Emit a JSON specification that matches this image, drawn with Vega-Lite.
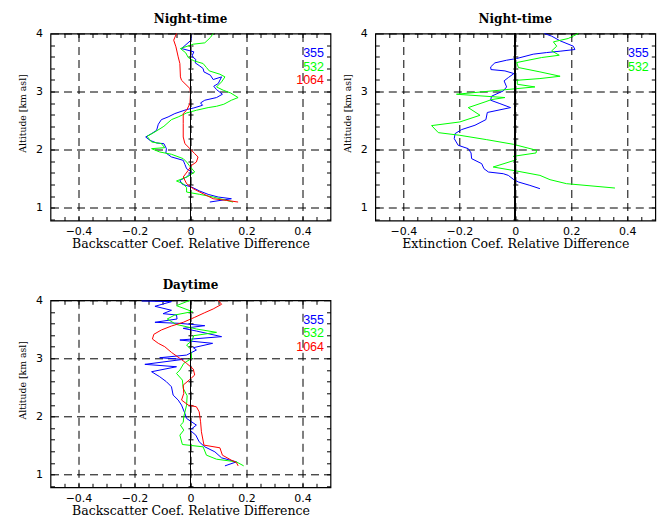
{
 "$schema": "https://vega.github.io/schema/vega-lite/v6.json",
 "background": "white",
 "padding": {"left": 17.5, "top": 11.5, "right": 3, "bottom": 2},
 "data": {"values": [
  {"p":"a","s":"355","x":0,"y":4},{"p":"a","s":"355","x":0.002,"y":3.885},{"p":"a","s":"355","x":-0.032,"y":3.741},{"p":"a","s":"355","x":0.012,"y":3.684},{"p":"a","s":"355","x":0.005,"y":3.609},{"p":"a","s":"355","x":0.019,"y":3.552},{"p":"a","s":"355","x":0.017,"y":3.494},{"p":"a","s":"355","x":0.031,"y":3.448},{"p":"a","s":"355","x":0.045,"y":3.397},{"p":"a","s":"355","x":0.048,"y":3.339},{"p":"a","s":"355","x":0.071,"y":3.282},{"p":"a","s":"355","x":0.081,"y":3.207},{"p":"a","s":"355","x":0.111,"y":3.253},{"p":"a","s":"355","x":0.099,"y":3.138},{"p":"a","s":"355","x":0.083,"y":3.092},{"p":"a","s":"355","x":0.093,"y":3.034},{"p":"a","s":"355","x":0.114,"y":2.954},{"p":"a","s":"355","x":0.093,"y":2.897},{"p":"a","s":"355","x":0.051,"y":2.851},{"p":"a","s":"355","x":0.036,"y":2.805},{"p":"a","s":"355","x":0.043,"y":2.764},{"p":"a","s":"355","x":0.012,"y":2.718},{"p":"a","s":"355","x":-0.014,"y":2.69},{"p":"a","s":"355","x":-0.056,"y":2.621},{"p":"a","s":"355","x":-0.08,"y":2.563},{"p":"a","s":"355","x":-0.104,"y":2.517},{"p":"a","s":"355","x":-0.115,"y":2.437},{"p":"a","s":"355","x":-0.121,"y":2.333},{"p":"a","s":"355","x":-0.139,"y":2.276},{"p":"a","s":"355","x":-0.16,"y":2.218},{"p":"a","s":"355","x":-0.145,"y":2.161},{"p":"a","s":"355","x":-0.121,"y":2.115},{"p":"a","s":"355","x":-0.095,"y":2.103},{"p":"a","s":"355","x":-0.086,"y":2.017},{"p":"a","s":"355","x":-0.088,"y":1.943},{"p":"a","s":"355","x":-0.068,"y":1.874},{"p":"a","s":"355","x":-0.026,"y":1.816},{"p":"a","s":"355","x":-0.02,"y":1.747},{"p":"a","s":"355","x":-0.014,"y":1.672},{"p":"a","s":"355","x":0.004,"y":1.615},{"p":"a","s":"355","x":-0.014,"y":1.529},{"p":"a","s":"355","x":-0.038,"y":1.471},{"p":"a","s":"355","x":-0.029,"y":1.402},{"p":"a","s":"355","x":0.004,"y":1.356},{"p":"a","s":"355","x":0.033,"y":1.287},{"p":"a","s":"355","x":0.063,"y":1.23},{"p":"a","s":"355","x":0.099,"y":1.184},{"p":"a","s":"355","x":0.146,"y":1.155},{"p":"a","s":"355","x":0.069,"y":1.098},
  {"p":"a","s":"532","x":0.081,"y":4},{"p":"a","s":"532","x":0.071,"y":3.931},{"p":"a","s":"532","x":0.051,"y":3.839},{"p":"a","s":"532","x":0.01,"y":3.816},{"p":"a","s":"532","x":-0.036,"y":3.741},{"p":"a","s":"532","x":-0.017,"y":3.667},{"p":"a","s":"532","x":-0.008,"y":3.586},{"p":"a","s":"532","x":0.012,"y":3.529},{"p":"a","s":"532","x":0.045,"y":3.483},{"p":"a","s":"532","x":0.057,"y":3.414},{"p":"a","s":"532","x":0.067,"y":3.356},{"p":"a","s":"532","x":0.105,"y":3.299},{"p":"a","s":"532","x":0.123,"y":3.253},{"p":"a","s":"532","x":0.111,"y":3.167},{"p":"a","s":"532","x":0.093,"y":3.08},{"p":"a","s":"532","x":0.117,"y":3.023},{"p":"a","s":"532","x":0.143,"y":2.977},{"p":"a","s":"532","x":0.17,"y":2.897},{"p":"a","s":"532","x":0.146,"y":2.851},{"p":"a","s":"532","x":0.119,"y":2.782},{"p":"a","s":"532","x":0.093,"y":2.747},{"p":"a","s":"532","x":0.063,"y":2.724},{"p":"a","s":"532","x":0.021,"y":2.678},{"p":"a","s":"532","x":-0.014,"y":2.632},{"p":"a","s":"532","x":-0.044,"y":2.563},{"p":"a","s":"532","x":-0.068,"y":2.517},{"p":"a","s":"532","x":-0.095,"y":2.402},{"p":"a","s":"532","x":-0.127,"y":2.305},{"p":"a","s":"532","x":-0.155,"y":2.23},{"p":"a","s":"532","x":-0.139,"y":2.132},{"p":"a","s":"532","x":-0.104,"y":2.103},{"p":"a","s":"532","x":-0.092,"y":2.034},{"p":"a","s":"532","x":-0.139,"y":2.017},{"p":"a","s":"532","x":-0.11,"y":1.96},{"p":"a","s":"532","x":-0.068,"y":1.92},{"p":"a","s":"532","x":-0.026,"y":1.845},{"p":"a","s":"532","x":-0.014,"y":1.787},{"p":"a","s":"532","x":-0.005,"y":1.73},{"p":"a","s":"532","x":0.015,"y":1.615},{"p":"a","s":"532","x":-0.008,"y":1.54},{"p":"a","s":"532","x":-0.05,"y":1.46},{"p":"a","s":"532","x":-0.026,"y":1.414},{"p":"a","s":"532","x":-0.014,"y":1.345},{"p":"a","s":"532","x":-0.014,"y":1.27},{"p":"a","s":"532","x":0.033,"y":1.23},{"p":"a","s":"532","x":0.081,"y":1.184},{"p":"a","s":"532","x":0.129,"y":1.126},{"p":"a","s":"532","x":0.152,"y":1.098},
  {"p":"a","s":"1064","x":-0.05,"y":4},{"p":"a","s":"1064","x":-0.06,"y":3.885},{"p":"a","s":"1064","x":-0.052,"y":3.77},{"p":"a","s":"1064","x":-0.044,"y":3.598},{"p":"a","s":"1064","x":-0.038,"y":3.483},{"p":"a","s":"1064","x":-0.036,"y":3.253},{"p":"a","s":"1064","x":-0.032,"y":3.195},{"p":"a","s":"1064","x":-0.002,"y":3.052},{"p":"a","s":"1064","x":0,"y":2.966},{"p":"a","s":"1064","x":-0.002,"y":2.793},{"p":"a","s":"1064","x":-0.014,"y":2.678},{"p":"a","s":"1064","x":-0.026,"y":2.621},{"p":"a","s":"1064","x":-0.026,"y":2.448},{"p":"a","s":"1064","x":-0.026,"y":2.218},{"p":"a","s":"1064","x":-0.02,"y":2.103},{"p":"a","s":"1064","x":-0.002,"y":2.017},{"p":"a","s":"1064","x":0.015,"y":1.931},{"p":"a","s":"1064","x":0.027,"y":1.874},{"p":"a","s":"1064","x":0.021,"y":1.787},{"p":"a","s":"1064","x":0.004,"y":1.73},{"p":"a","s":"1064","x":-0.008,"y":1.644},{"p":"a","s":"1064","x":-0.026,"y":1.529},{"p":"a","s":"1064","x":-0.014,"y":1.414},{"p":"a","s":"1064","x":0.01,"y":1.327},{"p":"a","s":"1064","x":0.045,"y":1.241},{"p":"a","s":"1064","x":0.081,"y":1.155},{"p":"a","s":"1064","x":0.129,"y":1.126},{"p":"a","s":"1064","x":0.17,"y":1.098},
  {"p":"b","s":"355","x":0.104,"y":4},{"p":"b","s":"355","x":0.13,"y":3.954},{"p":"b","s":"355","x":0.16,"y":3.874},{"p":"b","s":"355","x":0.207,"y":3.782},{"p":"b","s":"355","x":0.213,"y":3.724},{"p":"b","s":"355","x":0.16,"y":3.695},{"p":"b","s":"355","x":0.112,"y":3.672},{"p":"b","s":"355","x":0.064,"y":3.644},{"p":"b","s":"355","x":0.005,"y":3.569},{"p":"b","s":"355","x":-0.031,"y":3.54},{"p":"b","s":"355","x":-0.073,"y":3.494},{"p":"b","s":"355","x":-0.088,"y":3.425},{"p":"b","s":"355","x":-0.087,"y":3.379},{"p":"b","s":"355","x":-0.037,"y":3.356},{"p":"b","s":"355","x":-0.005,"y":3.31},{"p":"b","s":"355","x":-0.025,"y":3.241},{"p":"b","s":"355","x":-0.04,"y":3.184},{"p":"b","s":"355","x":-0.031,"y":3.08},{"p":"b","s":"355","x":-0.043,"y":3.011},{"p":"b","s":"355","x":-0.085,"y":2.92},{"p":"b","s":"355","x":-0.088,"y":2.851},{"p":"b","s":"355","x":-0.055,"y":2.793},{"p":"b","s":"355","x":-0.017,"y":2.724},{"p":"b","s":"355","x":-0.1,"y":2.64},{"p":"b","s":"355","x":-0.105,"y":2.517},{"p":"b","s":"355","x":-0.144,"y":2.42},{"p":"b","s":"355","x":-0.192,"y":2.345},{"p":"b","s":"355","x":-0.215,"y":2.276},{"p":"b","s":"355","x":-0.218,"y":2.19},{"p":"b","s":"355","x":-0.204,"y":2.075},{"p":"b","s":"355","x":-0.168,"y":2.017},{"p":"b","s":"355","x":-0.158,"y":1.943},{"p":"b","s":"355","x":-0.156,"y":1.845},{"p":"b","s":"355","x":-0.12,"y":1.759},{"p":"b","s":"355","x":-0.112,"y":1.672},{"p":"b","s":"355","x":-0.096,"y":1.615},{"p":"b","s":"355","x":-0.043,"y":1.586},{"p":"b","s":"355","x":-0.025,"y":1.557},{"p":"b","s":"355","x":-0.005,"y":1.483},{"p":"b","s":"355","x":0.011,"y":1.443},{"p":"b","s":"355","x":0.052,"y":1.385},{"p":"b","s":"355","x":0.088,"y":1.328},
  {"p":"b","s":"532","x":0.225,"y":4},{"p":"b","s":"532","x":0.189,"y":3.914},{"p":"b","s":"532","x":0.136,"y":3.856},{"p":"b","s":"532","x":0.148,"y":3.782},{"p":"b","s":"532","x":0.13,"y":3.701},{"p":"b","s":"532","x":0.157,"y":3.626},{"p":"b","s":"532","x":0.094,"y":3.586},{"p":"b","s":"532","x":0.005,"y":3.5},{"p":"b","s":"532","x":0.011,"y":3.414},{"p":"b","s":"532","x":0.088,"y":3.339},{"p":"b","s":"532","x":0.16,"y":3.264},{"p":"b","s":"532","x":0.088,"y":3.224},{"p":"b","s":"532","x":0.007,"y":3.195},{"p":"b","s":"532","x":0.007,"y":3.126},{"p":"b","s":"532","x":0.07,"y":3.08},{"p":"b","s":"532","x":-0.21,"y":2.954},{"p":"b","s":"532","x":-0.037,"y":2.897},{"p":"b","s":"532","x":-0.085,"y":2.862},{"p":"b","s":"532","x":-0.108,"y":2.822},{"p":"b","s":"532","x":-0.168,"y":2.724},{"p":"b","s":"532","x":-0.126,"y":2.592},{"p":"b","s":"532","x":-0.198,"y":2.477},{"p":"b","s":"532","x":-0.299,"y":2.414},{"p":"b","s":"532","x":-0.275,"y":2.293},{"p":"b","s":"532","x":-0.198,"y":2.247},{"p":"b","s":"532","x":-0.102,"y":2.172},{"p":"b","s":"532","x":-0.007,"y":2.092},{"p":"b","s":"532","x":0.076,"y":1.989},{"p":"b","s":"532","x":0.074,"y":1.943},{"p":"b","s":"532","x":-0.007,"y":1.885},{"p":"b","s":"532","x":0.005,"y":1.828},{"p":"b","s":"532","x":-0.079,"y":1.701},{"p":"b","s":"532","x":0.005,"y":1.632},{"p":"b","s":"532","x":0.088,"y":1.557},{"p":"b","s":"532","x":0.124,"y":1.483},{"p":"b","s":"532","x":0.183,"y":1.414},{"p":"b","s":"532","x":0.356,"y":1.339},
  {"p":"c","s":"355","x":-0.175,"y":3.989},{"p":"c","s":"355","x":-0.068,"y":3.977},{"p":"c","s":"355","x":-0.127,"y":3.897},{"p":"c","s":"355","x":-0.068,"y":3.828},{"p":"c","s":"355","x":-0.098,"y":3.77},{"p":"c","s":"355","x":-0.05,"y":3.747},{"p":"c","s":"355","x":-0.048,"y":3.678},{"p":"c","s":"355","x":-0.127,"y":3.621},{"p":"c","s":"355","x":-0.038,"y":3.603},{"p":"c","s":"355","x":0.051,"y":3.563},{"p":"c","s":"355","x":-0.026,"y":3.517},{"p":"c","s":"355","x":0.021,"y":3.471},{"p":"c","s":"355","x":0.111,"y":3.374},{"p":"c","s":"355","x":-0.038,"y":3.316},{"p":"c","s":"355","x":0.079,"y":3.259},{"p":"c","s":"355","x":0.01,"y":3.184},{"p":"c","s":"355","x":0.021,"y":3.144},{"p":"c","s":"355","x":-0.014,"y":3.057},{"p":"c","s":"355","x":-0.11,"y":3.011},{"p":"c","s":"355","x":-0.026,"y":2.983},{"p":"c","s":"355","x":-0.163,"y":2.897},{"p":"c","s":"355","x":-0.05,"y":2.856},{"p":"c","s":"355","x":-0.139,"y":2.77},{"p":"c","s":"355","x":-0.11,"y":2.684},{"p":"c","s":"355","x":-0.086,"y":2.598},{"p":"c","s":"355","x":-0.068,"y":2.511},{"p":"c","s":"355","x":-0.062,"y":2.368},{"p":"c","s":"355","x":-0.044,"y":2.282},{"p":"c","s":"355","x":-0.032,"y":2.195},{"p":"c","s":"355","x":-0.02,"y":2.052},{"p":"c","s":"355","x":-0.014,"y":1.966},{"p":"c","s":"355","x":0.021,"y":1.851},{"p":"c","s":"355","x":-0.002,"y":1.764},{"p":"c","s":"355","x":0.019,"y":1.678},{"p":"c","s":"355","x":0.031,"y":1.563},{"p":"c","s":"355","x":0.051,"y":1.477},{"p":"c","s":"355","x":0.087,"y":1.391},{"p":"c","s":"355","x":0.111,"y":1.287},{"p":"c","s":"355","x":0.164,"y":1.218},{"p":"c","s":"355","x":0.123,"y":1.149},
  {"p":"c","s":"532","x":-0.002,"y":4},{"p":"c","s":"532","x":-0.05,"y":3.908},{"p":"c","s":"532","x":0.007,"y":3.805},{"p":"c","s":"532","x":-0.056,"y":3.747},{"p":"c","s":"532","x":-0.083,"y":3.678},{"p":"c","s":"532","x":-0.052,"y":3.586},{"p":"c","s":"532","x":0.021,"y":3.506},{"p":"c","s":"532","x":0.093,"y":3.448},{"p":"c","s":"532","x":0.012,"y":3.391},{"p":"c","s":"532","x":0.004,"y":3.299},{"p":"c","s":"532","x":-0.014,"y":3.23},{"p":"c","s":"532","x":0,"y":3.161},{"p":"c","s":"532","x":0.004,"y":3},{"p":"c","s":"532","x":-0.024,"y":2.914},{"p":"c","s":"532","x":-0.038,"y":2.799},{"p":"c","s":"532","x":-0.05,"y":2.741},{"p":"c","s":"532","x":-0.029,"y":2.626},{"p":"c","s":"532","x":-0.026,"y":2.483},{"p":"c","s":"532","x":-0.012,"y":2.356},{"p":"c","s":"532","x":-0.014,"y":2.195},{"p":"c","s":"532","x":-0.024,"y":1.994},{"p":"c","s":"532","x":-0.026,"y":1.897},{"p":"c","s":"532","x":-0.036,"y":1.851},{"p":"c","s":"532","x":-0.024,"y":1.764},{"p":"c","s":"532","x":-0.038,"y":1.678},{"p":"c","s":"532","x":-0.029,"y":1.517},{"p":"c","s":"532","x":0.045,"y":1.477},{"p":"c","s":"532","x":0.057,"y":1.333},{"p":"c","s":"532","x":0.093,"y":1.264},{"p":"c","s":"532","x":0.164,"y":1.218},{"p":"c","s":"532","x":0.19,"y":1.149},
  {"p":"c","s":"1064","x":0.099,"y":4},{"p":"c","s":"1064","x":0.111,"y":3.931},{"p":"c","s":"1064","x":0.081,"y":3.851},{"p":"c","s":"1064","x":0.051,"y":3.787},{"p":"c","s":"1064","x":0.015,"y":3.707},{"p":"c","s":"1064","x":-0.026,"y":3.621},{"p":"c","s":"1064","x":-0.068,"y":3.557},{"p":"c","s":"1064","x":-0.104,"y":3.489},{"p":"c","s":"1064","x":-0.131,"y":3.414},{"p":"c","s":"1064","x":-0.136,"y":3.333},{"p":"c","s":"1064","x":-0.115,"y":3.259},{"p":"c","s":"1064","x":-0.092,"y":3.201},{"p":"c","s":"1064","x":-0.068,"y":3.103},{"p":"c","s":"1064","x":-0.038,"y":3},{"p":"c","s":"1064","x":-0.014,"y":2.914},{"p":"c","s":"1064","x":0.01,"y":2.816},{"p":"c","s":"1064","x":0.015,"y":2.713},{"p":"c","s":"1064","x":-0.005,"y":2.626},{"p":"c","s":"1064","x":-0.026,"y":2.54},{"p":"c","s":"1064","x":-0.024,"y":2.397},{"p":"c","s":"1064","x":-0.032,"y":2.282},{"p":"c","s":"1064","x":-0.008,"y":2.195},{"p":"c","s":"1064","x":0.021,"y":2.167},{"p":"c","s":"1064","x":0.031,"y":2.08},{"p":"c","s":"1064","x":0.036,"y":1.908},{"p":"c","s":"1064","x":0.039,"y":1.736},{"p":"c","s":"1064","x":0.048,"y":1.506},{"p":"c","s":"1064","x":0.105,"y":1.46},{"p":"c","s":"1064","x":0.114,"y":1.333},{"p":"c","s":"1064","x":0.146,"y":1.247},{"p":"c","s":"1064","x":0.164,"y":1.207},{"p":"c","s":"1064","x":0.17,"y":1.149}
 ]},
 "columns": 2,
 "spacing": {"row": 26.8, "column": 9.8},
 "concat": [
  {"width": 280, "height": 187, "title": "Night-time",
   "transform": [{"filter": "datum.p == 'a'"}],
   "layer": [
    {"mark": {"type": "line", "strokeWidth": 1},
     "encoding": {
      "x": {"field": "x", "type": "quantitative", "scale": {"domain": [-0.5, 0.5], "nice": false, "zero": false},
        "axis": {"orient": "bottom", "values": [-0.4,-0.2,0,0.2,0.4], "format": "~g", "grid": true, "gridDash": [8,5], "gridColor": "black", "gridOpacity": 1, "ticks": false, "domain": false, "labelPadding": 5, "title": "Backscatter Coef. Relative Difference", "titlePadding": 1}},
      "y": {"field": "y", "type": "quantitative", "scale": {"domain": [0.78, 4], "nice": false, "zero": false},
        "axis": {"orient": "left", "values": [1,2,3,4], "format": "d", "grid": true, "gridDash": [8,5], "gridColor": "black", "gridOpacity": 1, "ticks": false, "domain": false, "labelPadding": 8, "title": "Altitude [km asl]", "titleFontSize": 9.3, "titlePadding": 8, "titleY": 79.5}},
      "color": {"field": "s", "type": "nominal", "scale": {"domain": ["355","532","1064"], "range": ["#0000ff","#00ff00","#ff0000"]},
        "legend": {"title": " ", "titleFontSize": 2, "titlePadding": 5.4, "orient": "top-right", "offset": 6, "symbolType": "M0,0", "symbolOpacity": 0, "symbolSize": 0, "symbolStrokeWidth": 0, "symbolStrokeColor": "transparent", "symbolFillColor": "transparent", "labelFont": "Liberation Sans", "labelFontSize": 12.5, "labelAlign": "right", "rowPadding": 0.5, "labelOffset": 0,
          "encode": {"symbols": {"update": {"opacity": {"value": 0}, "strokeOpacity": {"value": 0}, "stroke": {"value": "transparent"}, "fill": {"value": "transparent"}, "size": {"value": 0}, "strokeWidth": {"value": 0}}}, "labels": {"update": {"fill": {"signal": "datum.value === '355' ? '#0000ff' : datum.value === '532' ? '#00ff00' : '#ff0000'"}}}}}},
      "order": {"value": null}
     }},
    {"mark": {"type": "rule", "color": "black", "strokeWidth": 1},
     "encoding": {"x": {"datum": 0, "type": "quantitative",
       "axis": {"orient": "bottom", "values": [-0.45,-0.4,-0.35,-0.3,-0.25,-0.2,-0.15,-0.1,-0.05,0,0.05,0.1,0.15,0.2,0.25,0.3,0.35,0.4,0.45], "labels": false, "domain": false, "grid": false, "tickSize": -4, "title": null}},
       "y": {"datum": 0.78, "type": "quantitative",
       "axis": {"orient": "left", "values": [0.8,1,1.2,1.4,1.6,1.8,2,2.2,2.4,2.6,2.8,3,3.2,3.4,3.6,3.8], "labels": false, "domain": false, "grid": false, "tickSize": -4, "title": null}},
       "y2": {"datum": 4}}},
    {"mark": {"type": "rule", "opacity": 0},
     "encoding": {"x": {"datum": 0, "type": "quantitative",
       "axis": {"orient": "top", "values": [-0.45,-0.4,-0.35,-0.3,-0.25,-0.2,-0.15,-0.1,-0.05,0,0.05,0.1,0.15,0.2,0.25,0.3,0.35,0.4,0.45], "labels": false, "domain": false, "grid": false, "tickSize": -4, "title": null}},
       "y": {"datum": 1, "type": "quantitative",
       "axis": {"orient": "right", "values": [0.8,1,1.2,1.4,1.6,1.8,2,2.2,2.4,2.6,2.8,3,3.2,3.4,3.6,3.8], "labels": false, "domain": false, "grid": false, "tickSize": -4, "title": null}}}},
    {"mark": {"type": "rule", "opacity": 0},
     "encoding": {"x": {"datum": 0, "type": "quantitative", "axis": null},
       "y": {"datum": 1, "type": "quantitative",
       "axis": {"orient": "left", "offset": -140, "values": [0.8,1,1.2,1.4,1.6,1.8,2,2.2,2.4,2.6,2.8,3,3.2,3.4,3.6,3.8], "labels": false, "domain": false, "grid": false, "tickSize": 2.5, "title": null}}}},
    {"mark": {"type": "rule", "opacity": 0},
     "encoding": {"x": {"datum": 0, "type": "quantitative", "axis": null},
       "y": {"datum": 1, "type": "quantitative",
       "axis": {"orient": "right", "offset": -140, "values": [0.8,1,1.2,1.4,1.6,1.8,2,2.2,2.4,2.6,2.8,3,3.2,3.4,3.6,3.8], "labels": false, "domain": false, "grid": false, "tickSize": 2.5, "title": null}}}}
   ],
   "resolve": {"axis": {"x": "independent", "y": "independent"}}},
  {"width": 280, "height": 187, "title": "Night-time",
   "transform": [{"filter": "datum.p == 'b'"}],
   "layer": [
    {"mark": {"type": "line", "strokeWidth": 1},
     "encoding": {
      "x": {"field": "x", "type": "quantitative", "scale": {"domain": [-0.5, 0.5], "nice": false, "zero": false},
        "axis": {"orient": "bottom", "values": [-0.4,-0.2,0,0.2,0.4], "format": "~g", "grid": true, "gridDash": [8,5], "gridColor": "black", "gridOpacity": 1, "ticks": false, "domain": false, "labelPadding": 5, "title": "Extinction Coef. Relative Difference", "titlePadding": 1}},
      "y": {"field": "y", "type": "quantitative", "scale": {"domain": [0.78, 4], "nice": false, "zero": false},
        "axis": {"orient": "left", "values": [1,2,3,4], "format": "d", "grid": true, "gridDash": [8,5], "gridColor": "black", "gridOpacity": 1, "ticks": false, "domain": false, "labelPadding": 8, "title": "Altitude [km asl]", "titleFontSize": 9.3, "titlePadding": 8, "titleY": 79.5}},
      "color": {"field": "s", "type": "nominal", "scale": {"domain": ["355","532"], "range": ["#0000ff","#00ff00"]},
        "legend": {"title": " ", "titleFontSize": 2, "titlePadding": 5.4, "orient": "top-right", "offset": 6, "symbolType": "M0,0", "symbolOpacity": 0, "symbolSize": 0, "symbolStrokeWidth": 0, "symbolStrokeColor": "transparent", "symbolFillColor": "transparent", "labelFont": "Liberation Sans", "labelFontSize": 12.5, "labelAlign": "right", "rowPadding": 0.5, "labelOffset": 0,
          "encode": {"symbols": {"update": {"opacity": {"value": 0}, "strokeOpacity": {"value": 0}, "stroke": {"value": "transparent"}, "fill": {"value": "transparent"}, "size": {"value": 0}, "strokeWidth": {"value": 0}}}, "labels": {"update": {"fill": {"signal": "datum.value === '355' ? '#0000ff' : datum.value === '532' ? '#00ff00' : '#ff0000'"}}}}}},
      "order": {"value": null}
     }},
    {"mark": {"type": "rule", "color": "black", "strokeWidth": 1},
     "encoding": {"x": {"datum": 0, "type": "quantitative",
       "axis": {"orient": "bottom", "values": [-0.45,-0.4,-0.35,-0.3,-0.25,-0.2,-0.15,-0.1,-0.05,0,0.05,0.1,0.15,0.2,0.25,0.3,0.35,0.4,0.45], "labels": false, "domain": false, "grid": false, "tickSize": -4, "title": null}},
       "y": {"datum": 0.78, "type": "quantitative",
       "axis": {"orient": "left", "values": [0.8,1,1.2,1.4,1.6,1.8,2,2.2,2.4,2.6,2.8,3,3.2,3.4,3.6,3.8], "labels": false, "domain": false, "grid": false, "tickSize": -4, "title": null}},
       "y2": {"datum": 4}}},
    {"mark": {"type": "rule", "opacity": 0},
     "encoding": {"x": {"datum": 0, "type": "quantitative",
       "axis": {"orient": "top", "values": [-0.45,-0.4,-0.35,-0.3,-0.25,-0.2,-0.15,-0.1,-0.05,0,0.05,0.1,0.15,0.2,0.25,0.3,0.35,0.4,0.45], "labels": false, "domain": false, "grid": false, "tickSize": -4, "title": null}},
       "y": {"datum": 1, "type": "quantitative",
       "axis": {"orient": "right", "values": [0.8,1,1.2,1.4,1.6,1.8,2,2.2,2.4,2.6,2.8,3,3.2,3.4,3.6,3.8], "labels": false, "domain": false, "grid": false, "tickSize": -4, "title": null}}}},
    {"mark": {"type": "rule", "opacity": 0},
     "encoding": {"x": {"datum": 0, "type": "quantitative", "axis": null},
       "y": {"datum": 1, "type": "quantitative",
       "axis": {"orient": "left", "offset": -140, "values": [0.8,1,1.2,1.4,1.6,1.8,2,2.2,2.4,2.6,2.8,3,3.2,3.4,3.6,3.8], "labels": false, "domain": false, "grid": false, "tickSize": 2.5, "title": null}}}},
    {"mark": {"type": "rule", "opacity": 0},
     "encoding": {"x": {"datum": 0, "type": "quantitative", "axis": null},
       "y": {"datum": 1, "type": "quantitative",
       "axis": {"orient": "right", "offset": -140, "values": [0.8,1,1.2,1.4,1.6,1.8,2,2.2,2.4,2.6,2.8,3,3.2,3.4,3.6,3.8], "labels": false, "domain": false, "grid": false, "tickSize": 2.5, "title": null}}}}
   ],
   "resolve": {"axis": {"x": "independent", "y": "independent"}}},
  {"width": 280, "height": 187, "title": "Daytime",
   "transform": [{"filter": "datum.p == 'c'"}],
   "layer": [
    {"mark": {"type": "line", "strokeWidth": 1},
     "encoding": {
      "x": {"field": "x", "type": "quantitative", "scale": {"domain": [-0.5, 0.5], "nice": false, "zero": false},
        "axis": {"orient": "bottom", "values": [-0.4,-0.2,0,0.2,0.4], "format": "~g", "grid": true, "gridDash": [8,5], "gridColor": "black", "gridOpacity": 1, "ticks": false, "domain": false, "labelPadding": 5, "title": "Backscatter Coef. Relative Difference", "titlePadding": 1}},
      "y": {"field": "y", "type": "quantitative", "scale": {"domain": [0.78, 4], "nice": false, "zero": false},
        "axis": {"orient": "left", "values": [1,2,3,4], "format": "d", "grid": true, "gridDash": [8,5], "gridColor": "black", "gridOpacity": 1, "ticks": false, "domain": false, "labelPadding": 8, "title": "Altitude [km asl]", "titleFontSize": 9.3, "titlePadding": 8, "titleY": 79.5}},
      "color": {"field": "s", "type": "nominal", "scale": {"domain": ["355","532","1064"], "range": ["#0000ff","#00ff00","#ff0000"]},
        "legend": {"title": " ", "titleFontSize": 2, "titlePadding": 5.4, "orient": "top-right", "offset": 6, "symbolType": "M0,0", "symbolOpacity": 0, "symbolSize": 0, "symbolStrokeWidth": 0, "symbolStrokeColor": "transparent", "symbolFillColor": "transparent", "labelFont": "Liberation Sans", "labelFontSize": 12.5, "labelAlign": "right", "rowPadding": 0.5, "labelOffset": 0,
          "encode": {"symbols": {"update": {"opacity": {"value": 0}, "strokeOpacity": {"value": 0}, "stroke": {"value": "transparent"}, "fill": {"value": "transparent"}, "size": {"value": 0}, "strokeWidth": {"value": 0}}}, "labels": {"update": {"fill": {"signal": "datum.value === '355' ? '#0000ff' : datum.value === '532' ? '#00ff00' : '#ff0000'"}}}}}},
      "order": {"value": null}
     }},
    {"mark": {"type": "rule", "color": "black", "strokeWidth": 1},
     "encoding": {"x": {"datum": 0, "type": "quantitative",
       "axis": {"orient": "bottom", "values": [-0.45,-0.4,-0.35,-0.3,-0.25,-0.2,-0.15,-0.1,-0.05,0,0.05,0.1,0.15,0.2,0.25,0.3,0.35,0.4,0.45], "labels": false, "domain": false, "grid": false, "tickSize": -4, "title": null}},
       "y": {"datum": 0.78, "type": "quantitative",
       "axis": {"orient": "left", "values": [0.8,1,1.2,1.4,1.6,1.8,2,2.2,2.4,2.6,2.8,3,3.2,3.4,3.6,3.8], "labels": false, "domain": false, "grid": false, "tickSize": -4, "title": null}},
       "y2": {"datum": 4}}},
    {"mark": {"type": "rule", "opacity": 0},
     "encoding": {"x": {"datum": 0, "type": "quantitative",
       "axis": {"orient": "top", "values": [-0.45,-0.4,-0.35,-0.3,-0.25,-0.2,-0.15,-0.1,-0.05,0,0.05,0.1,0.15,0.2,0.25,0.3,0.35,0.4,0.45], "labels": false, "domain": false, "grid": false, "tickSize": -4, "title": null}},
       "y": {"datum": 1, "type": "quantitative",
       "axis": {"orient": "right", "values": [0.8,1,1.2,1.4,1.6,1.8,2,2.2,2.4,2.6,2.8,3,3.2,3.4,3.6,3.8], "labels": false, "domain": false, "grid": false, "tickSize": -4, "title": null}}}},
    {"mark": {"type": "rule", "opacity": 0},
     "encoding": {"x": {"datum": 0, "type": "quantitative", "axis": null},
       "y": {"datum": 1, "type": "quantitative",
       "axis": {"orient": "left", "offset": -140, "values": [0.8,1,1.2,1.4,1.6,1.8,2,2.2,2.4,2.6,2.8,3,3.2,3.4,3.6,3.8], "labels": false, "domain": false, "grid": false, "tickSize": 2.5, "title": null}}}},
    {"mark": {"type": "rule", "opacity": 0},
     "encoding": {"x": {"datum": 0, "type": "quantitative", "axis": null},
       "y": {"datum": 1, "type": "quantitative",
       "axis": {"orient": "right", "offset": -140, "values": [0.8,1,1.2,1.4,1.6,1.8,2,2.2,2.4,2.6,2.8,3,3.2,3.4,3.6,3.8], "labels": false, "domain": false, "grid": false, "tickSize": 2.5, "title": null}}}}
   ],
   "resolve": {"axis": {"x": "independent", "y": "independent"}}}
 ],
 "resolve": {"scale": {"color": "independent"}, "legend": {"color": "independent"}},
 "config": {
  "view": {"stroke": "black", "strokeWidth": 1.2},
  "axis": {"labelFont": "DejaVu Sans", "labelFontSize": 11, "labelColor": "black", "titleColor": "black", "tickColor": "black", "titleFont": "DejaVu Serif", "titleFontSize": 12.5, "titleFontWeight": "normal"},
  "title": {"font": "DejaVu Serif", "fontSize": 12, "fontWeight": "bold", "offset": 2, "color": "black"}
 }
}
